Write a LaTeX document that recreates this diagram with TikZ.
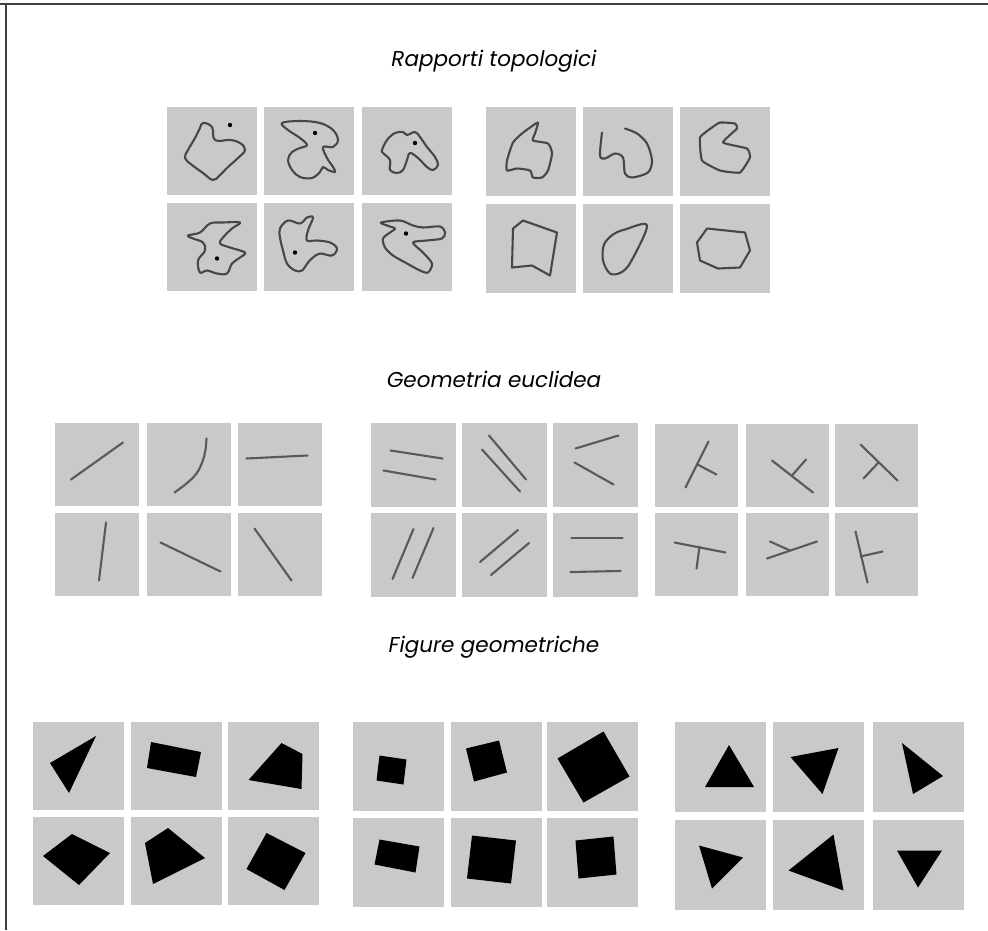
\documentclass[tikz,border=0pt]{standalone}
\usepackage{fontspec}
\setmainfont{Poppins}
\usepackage{tikz}
\usetikzlibrary{positioning}

\tikzset{
  pannello/.style={draw=none,fill=black!21,rectangle,inner sep=0pt},
  titolo/.style={draw=none,fill=none,font=\fontsize{21.5}{25}\selectfont\itshape},
  contorno/.style={draw=black!72,line width=2.1pt,line join=round},
  segmento/.style={draw=black!65,line width=2.1pt,line cap=round},
  punto/.style={fill=black},
  figura/.style={fill=black}
}

\begin{document}
\begin{tikzpicture}[x=1pt,y=-1pt]
		\useasboundingbox (0,0) rectangle (988,930);
		\coordinate (angolo) at (6,4);
		\draw[black!75,line width=1.5pt] (0,4) -- (988,4);
		\draw[black!75,line width=1.5pt] (angolo) -- (6,930);
		
		\node[titolo] (tit1) at (494,61) {Rapporti topologici};
		\node[titolo] (tit2) at (494,379) {Geometria euclidea};
		\node[titolo] (tit3) at (494,647) {Figure geometriche};
		
		\foreach \c/\cx in {1/212,2/309,3/407}
		  \foreach \r/\ry in {1/151,2/246.5}
		    \node[pannello,minimum width=90pt,minimum height=88pt] (a\c\r) at (\cx,\ry) {};
		\foreach \c/\cx in {1/531,2/628,3/725}
		  \foreach \r/\ry in {1/151.5,2/248.5}
		    \node[pannello,minimum width=90pt,minimum height=89pt] (b\c\r) at (\cx,\ry) {};
		
		\foreach \c/\cx in {1/97,2/188.5,3/279.5}
		  \foreach \r/\ry in {1/464.5,2/554.5}
		    \node[pannello,minimum width=84pt,minimum height=83pt] (c\c\r) at (\cx,\ry) {};
		\foreach \c/\cx in {1/413.5,2/504,3/595.5}
		  \foreach \r/\ry in {1/464.5,2/555}
		    \node[pannello,minimum width=85pt,minimum height=84pt] (d\c\r) at (\cx,\ry) {};
		\foreach \c/\cx in {1/696.5,2/787,3/876.5}
		  \foreach \r/\ry in {1/465.5,2/554.5}
		    \node[pannello,minimum width=83pt,minimum height=83pt] (e\c\r) at (\cx,\ry) {};
		
		\foreach \c/\cx in {1/78,2/176,3/273.5}
		  \foreach \r/\ry in {1/766,2/861}
		    \node[pannello,minimum width=91pt,minimum height=88pt] (f\c\r) at (\cx,\ry) {};
		\foreach \c/\cx in {1/398.5,2/496,3/592.5}
		  \foreach \r/\ry in {1/766.5,2/862.5}
		    \node[pannello,minimum width=91pt,minimum height=89pt] (g\c\r) at (\cx,\ry) {};
		\foreach \c/\cx in {1/720,2/818.5,3/918}
		  \foreach \r/\ry in {1/767,2/864.5}
		    \node[pannello,minimum width=91pt,minimum height=90pt] (h\c\r) at (\cx,\ry) {};
		
		% rapporti topologici: punto dentro / fuori
		\begin{scope}[shift={(a11)}]
		  \draw[contorno] plot[smooth cycle, tension=.7] coordinates {(-9,-28) (0,-24) (3,-11) (18,-11) (28,-8) (33,-1) (26,7) (16,16) (8,24) (1,29) (-9,22) (-20,14) (-27,7) (-24,-1) (-17,-13) (-12,-23)};
		  \fill[punto] (18,-26) circle (2.2);
		\end{scope}
		\begin{scope}[shift={(a21)}]
		  \draw[contorno] plot[smooth cycle, tension=.6] coordinates {(-27,-28) (-9,-30) (11,-28) (24,-21) (29,-11) (24,-4) (14,-4) (18,7) (24,16) (26,21) (19,19) (14,16) (11,21) (3,27) (-9,26) (-17,19) (-21,9) (-17,1) (-9,-3) (-2,-6) (-9,-13) (-21,-21)};
		  \fill[punto] (6,-18) circle (2.2);
		\end{scope}
		\begin{scope}[shift={(a31)}]
		  \draw[contorno] plot[smooth cycle, tension=.6] coordinates {(-25,-1) (-20,-11) (-12,-18) (-4,-19) (0,-16) (8,-19) (13,-14) (20,-4) (28,6) (31,14) (26,19) (20,16) (11,7) (3,2) (0,9) (-4,19) (-10,22) (-17,19) (-17,9) (-24,2)};
		  \fill[punto] (8,-8) circle (2.2);
		\end{scope}
		\begin{scope}[shift={(a12)}]
		  \draw[contorno] plot[smooth cycle, tension=.6] coordinates {(-24,-11) (-12,-14) (-2,-23) (11,-24) (28,-24) (20,-18) (11,-9) (8,-3) (18,1) (33,6) (28,11) (20,17) (15,27) (5,27) (-5,24) (-12,26) (-14,14) (-7,4) (-9,-4) (-19,-8)};
		  \fill[punto] (5,12) circle (2.2);
		\end{scope}
		\begin{scope}[shift={(a22)}]
		  \draw[contorno] plot[smooth cycle, tension=.6] coordinates {(-29,-18) (-21,-26) (-9,-23) (-2,-29) (4,-29) (-1,-16) (-2,-6) (8,-6) (21,-4) (28,2) (23,9) (11,7) (4,11) (-1,16) (-7,24) (-14,24) (-22,17) (-26,4) (-29,-9)};
		  \fill[punto] (-14,6) circle (2.2);
		\end{scope}
		\begin{scope}[shift={(a32)}]
		  \draw[contorno] plot[smooth cycle, tension=.5] coordinates {(-26,-24) (-7,-26) (6,-21) (16,-19) (33,-20) (38,-14) (35,-8) (20,-6) (6,-4) (16,6) (25,17) (21,26) (13,24) (0,17) (-14,9) (-22,1) (-24,-8) (-17,-14) (-12,-18) (-20,-21)};
		  \fill[punto] (-1,-13) circle (2.2);
		\end{scope}
		
		\begin{scope}[shift={(b11)}]
		  \draw[contorno] plot[smooth cycle, tension=.35] coordinates {(7,-29) (4,-18) (2,-11) (17,-8) (21,2) (17,19) (11,26) (2,26) (-1,19) (-14,17) (-24,19) (-24,9) (-18,-9) (-9,-18) (-1,-24)};
		\end{scope}
		\begin{scope}[shift={(b21)}]
		  \draw[contorno,line cap=round] plot[smooth, tension=.5] coordinates {(-26,-19) (-28,4) (-23,7) (-13,2) (-5,6) (-3,22) (4,26) (20,21) (24,9) (19,-8) (9,-18) (-3,-23)};
		\end{scope}
		\begin{scope}[shift={(b31)}]
		  \draw[contorno] plot[smooth cycle, tension=.25] coordinates {(-5,-29) (10,-28) (12,-23) (-2,-9) (22,-3) (25,6) (15,21) (-5,19) (-23,9) (-25,-14) (-13,-24)};
		\end{scope}
		\begin{scope}[shift={(b12)}]
		  \draw[contorno] (-8,-28) -- (26,-16) -- (19,27) -- (1,17) -- (-19,19) -- (-18,-20) -- cycle;
		\end{scope}
		\begin{scope}[shift={(b22)}]
		  \draw[contorno] plot[smooth cycle, tension=.55] coordinates {(19,-23) (-3,-19) (-15,-14) (-24,-4) (-25,12) (-18,25) (-7,24) (3,13)};
		\end{scope}
		\begin{scope}[shift={(b32)}]
		  \draw[contorno] (-18,-20) -- (20,-16) -- (25,2) -- (15,19) -- (-7,20) -- (-25,12) -- (-28,-6) -- cycle;
		\end{scope}
		
		% geometria euclidea
		\begin{scope}[shift={(c11)}]
		  \draw[segmento] (-26,15) -- (26,-22);
		\end{scope}
		\begin{scope}[shift={(c21)}]
		  \draw[segmento] plot[smooth, tension=.6] coordinates {(-14,28) (-2,19) (8,9) (14,-3) (17,-15) (18,-26)};
		\end{scope}
		\begin{scope}[shift={(c31)}]
		  \draw[segmento] (-33,-6) -- (28,-9);
		\end{scope}
		\begin{scope}[shift={(c12)}]
		  \draw[segmento] (9,-32) -- (2,26);
		\end{scope}
		\begin{scope}[shift={(c22)}]
		  \draw[segmento] (-28,-12) -- (32,17);
		\end{scope}
		\begin{scope}[shift={(c32)}]
		  \draw[segmento] (-25,-26) -- (12,26);
		\end{scope}
		
		\begin{scope}[shift={(d11)}]
		  \draw[segmento] (-23,-14) -- (29,-6);
		  \draw[segmento] (-30,6) -- (22,15);
		\end{scope}
		\begin{scope}[shift={(d21)}]
		  \draw[segmento] (-15,-29) -- (22,15);
		  \draw[segmento] (-22,-15) -- (16,27);
		\end{scope}
		\begin{scope}[shift={(d31)}]
		  \draw[segmento] (-20,-16) -- (23,-29);
		  \draw[segmento] (-21,-2) -- (18,20);
		\end{scope}
		\begin{scope}[shift={(d12)}]
		  \draw[segmento] (0,-26) -- (-21,24);
		  \draw[segmento] (20,-27) -- (-1,23);
		\end{scope}
		\begin{scope}[shift={(d22)}]
		  \draw[segmento] (14,-25) -- (-24,7);
		  \draw[segmento] (25,-12) -- (-13,20);
		\end{scope}
		\begin{scope}[shift={(d32)}]
		  \draw[segmento] (-24,-17) -- (27,-17);
		  \draw[segmento] (-25,17) -- (25,16);
		\end{scope}
		
		\begin{scope}[shift={(e11)}]
		  \draw[segmento] (12,-24) -- (-11,22);
		  \draw[segmento] (1,-1) -- (20,9);
		\end{scope}
		\begin{scope}[shift={(e21)}]
		  \draw[segmento] (-15,-5) -- (26,27);
		  \draw[segmento] (5,10) -- (19,-6);
		\end{scope}
		\begin{scope}[shift={(e31)}]
		  \draw[segmento] (-16,-21) -- (21,15);
		  \draw[segmento] (2,-3) -- (-13,13);
		\end{scope}
		\begin{scope}[shift={(e12)}]
		  \draw[segmento] (-22,-12) -- (29,-2);
		  \draw[segmento] (3,-8) -- (0,14);
		\end{scope}
		\begin{scope}[shift={(e22)}]
		  \draw[segmento] (-20,4) -- (30,-13);
		  \draw[segmento] (3,-4) -- (-17,-13);
		\end{scope}
		\begin{scope}[shift={(e32)}]
		  \draw[segmento] (-21,-23) -- (-9,28);
		  \draw[segmento] (-16,2) -- (6,-3);
		\end{scope}
		
		% figure geometriche
		\fill[figura,shift={(f11)}] (18,-30) -- (-28,-3) -- (-9,27) -- cycle;
		\fill[figura,shift={(f21)}] (-25,-24) -- (25,-14) -- (20,11) -- (-29,2) -- cycle;
		\fill[figura,shift={(f31)}] (8,-23) -- (29,-12) -- (28,23) -- (-25,14) -- cycle;
		\fill[figura,shift={(f12)}] (-6,-27) -- (32,-8) -- (1,24) -- (-35,-5) -- cycle;
		\fill[figura,shift={(f22)}] (-8,-33) -- (29,-3) -- (-23,23) -- (-31,-18) -- cycle;
		\fill[figura,shift={(f32)}] (-7,-28) -- (32,-8) -- (11,29) -- (-27,8) -- cycle;
		
		\fill[figura,shift={(g11)}] (-19,-11) -- (8,-7) -- (5,18) -- (-22,14) -- cycle;
		\fill[figura,shift={(g21)}] (-30,-18) -- (3,-26) -- (11,6) -- (-22,15) -- cycle;
		\fill[figura,shift={(g31)}] (-35,-8) -- (11,-35) -- (37,10) -- (-9,36) -- cycle;
		\fill[figura,shift={(g12)}] (-19,-23) -- (21,-16) -- (17,10) -- (-24,2) -- cycle;
		\fill[figura,shift={(g22)}] (-24,-27) -- (20,-22) -- (15,21) -- (-29,16) -- cycle;
		\fill[figura,shift={(g32)}] (-17,-22) -- (21,-26) -- (24,12) -- (-14,16) -- cycle;
		
		\fill[figura,shift={(h11)}] (9,-22) -- (34,20) -- (-15,20) -- cycle;
		\fill[figura,shift={(h21)}] (-28,-10) -- (20,-19) -- (4,27) -- cycle;
		\fill[figura,shift={(h31)}] (-16,-24) -- (25,9) -- (-5,27) -- cycle;
		\fill[figura,shift={(h12)}] (-21,-19) -- (23,-7) -- (-8,24) -- cycle;
		\fill[figura,shift={(h22)}] (15,-30) -- (25,26) -- (-30,6) -- cycle;
		\fill[figura,shift={(h32)}] (-21,-14) -- (24,-14) -- (0,23) -- cycle;
	\end{tikzpicture}
\end{document}
